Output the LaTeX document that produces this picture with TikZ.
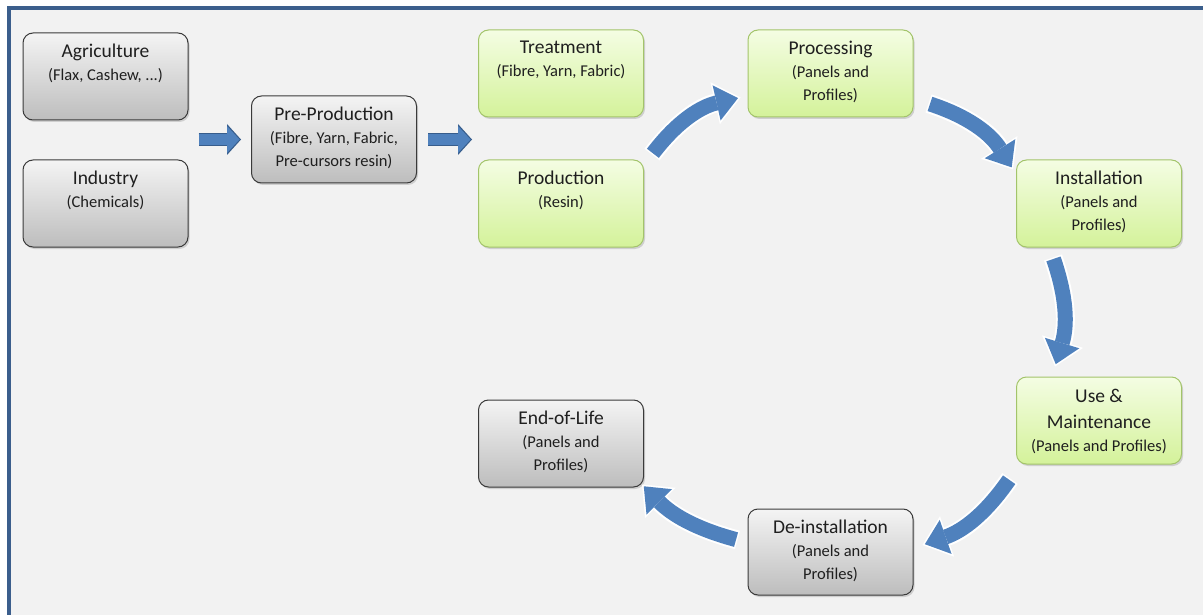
\documentclass[tikz,border=0pt]{standalone}
\usepackage{fontspec}
\setmainfont{Carlito}
\usetikzlibrary{arrows.meta,shadows,calc}

\definecolor{framecol}{HTML}{3B5E8C}
\definecolor{canvas}{HTML}{F2F2F2}
\definecolor{greytop}{HTML}{F4F4F4}
\definecolor{greybot}{HTML}{BDBDBD}
\definecolor{greyline}{HTML}{3A3A3A}
\definecolor{greentop}{HTML}{F4FDE3}
\definecolor{greenbot}{HTML}{D4F29A}
\definecolor{greenline}{HTML}{A3C46A}
\definecolor{flowblue}{HTML}{4F81BD}
\definecolor{flowedge}{HTML}{375D8C}

\newcommand{\smalltxt}[1]{{\fontsize{16.5}{23}\selectfont #1}}

\tikzset{
  stagebox/.style={rounded corners=10pt, line width=1pt, minimum width=165pt,
    minimum height=87pt, drop shadow={shadow xshift=1.5pt, shadow yshift=-2pt, opacity=.3}},
  greystage/.style={stagebox, draw=greyline, top color=greytop, bottom color=greybot},
  greenstage/.style={stagebox, draw=greenline, top color=greentop, bottom color=greenbot},
  stagetext/.style={anchor=north, inner sep=0pt, align=center,
    font=\fontsize{19.5}{23}\selectfont, text=black!88},
  feedarrow/.style={draw=flowblue, line width=11pt, shorten >=1.5pt,
    -{Triangle[width=27pt,length=12.5pt,line width=0pt]},
    preaction={draw=flowedge, line width=13pt, shorten >=0pt,
      -{Triangle[width=31pt,length=14pt,line width=0pt]}}},
  ringarrow/.style={draw=flowblue, line width=15pt, shorten >=2.5pt, shorten <=1.5pt,
    -{Triangle[width=36pt,length=22pt,line width=0pt]},
    preaction={draw=white, line width=19pt, shorten >=0pt, shorten <=0pt,
      -{Triangle[width=43pt,length=26pt,line width=0pt]}}}
}

\begin{document}
\begin{tikzpicture}[x=1pt,y=1pt]
\useasboundingbox (0,0) rectangle (1203,-615);
\fill[white] (0,0) rectangle (1203,-615);

% Rahmen
\fill[canvas] (9,-8) rectangle (1203,-615);
\draw[framecol,line width=3.5pt] (9,-615) -- (9,-8) -- (1203,-8);

% Rohstoffe
\node[greystage] (agr) at (105.5,-76.5) {};
\node[stagetext] at ([yshift=-11pt]agr.north) {Agriculture\\\smalltxt{(Flax, Cashew, ...)}};
\node[greystage] (ind) at (105.5,-203.5) {};
\node[stagetext] at ([yshift=-11pt]ind.north) {Industry\\\smalltxt{(Chemicals)}};

\node[greystage] (pre) at (334,-139.5) {};
\node[stagetext] at ([yshift=-11pt]pre.north) {Pre-Production\\\smalltxt{(Fibre, Yarn, Fabric,}\\\smalltxt{Pre-cursors resin)}};

% Herstellung
\node[greenstage] (treat) at (561,-73.5) {};
\node[stagetext] at ([yshift=-11pt]treat.north) {Treatment\\\smalltxt{(Fibre, Yarn, Fabric)}};
\node[greenstage] (prod) at (561,-203.5) {};
\node[stagetext] at ([yshift=-11pt]prod.north) {Production\\\smalltxt{(Resin)}};

\node[greenstage] (proc) at (830.5,-73.5) {};
\node[stagetext] at ([yshift=-11pt]proc.north) {Processing\\\smalltxt{(Panels and}\\\smalltxt{Profiles)}};
\node[greenstage] (inst) at (1099,-203.5) {};
\node[stagetext] at ([yshift=-11pt]inst.north) {Installation\\\smalltxt{(Panels and}\\\smalltxt{Profiles)}};
\node[greenstage] (use) at (1099,-420.5) {};
\node[stagetext] at ([yshift=-12pt]use.north) {Use \&\\[3pt]Maintenance\\\smalltxt{(Panels and Profiles)}};

% Lebensende
\node[greystage,minimum height=86pt] (deinst) at (830.5,-552) {};
\node[stagetext] at ([yshift=-11pt]deinst.north) {De-installation\\\smalltxt{(Panels and}\\\smalltxt{Profiles)}};
\node[greystage] (eol) at (561,-443.5) {};
\node[stagetext] at ([yshift=-11pt]eol.north) {End-of-Life\\\smalltxt{(Panels and}\\\smalltxt{Profiles)}};

% gerade Pfeile
\draw[feedarrow] ($(agr.east|-pre.west)+(10,0)$) -- ([xshift=-10pt]pre.west);
\draw[feedarrow] ([xshift=11pt]pre.east) -- ($(treat.west|-pre.east)+(-6,0)$);

% Kreislauf
\draw[ringarrow] ([shift={(8,5)}]prod.north east) to[bend left=20] ([shift={(-7,20)}]proc.south west);
\draw[ringarrow] ([shift={(15,14)}]proc.south east) to[bend left=20] ([shift={(-3,-10)}]inst.north west);
\draw[ringarrow] ([shift={(-46,-10)}]inst.south) to[bend left=18] ([shift={(-44,10)}]use.north);
\draw[ringarrow] ([shift={(-6,-14)}]use.south west) to[bend left=18] ([shift={(9,7)}]deinst.east);
\draw[ringarrow] ([shift={(-10,12)}]deinst.west) to[bend left=15] ([shift={(-2,3)}]eol.south east);

\end{tikzpicture}
\end{document}
